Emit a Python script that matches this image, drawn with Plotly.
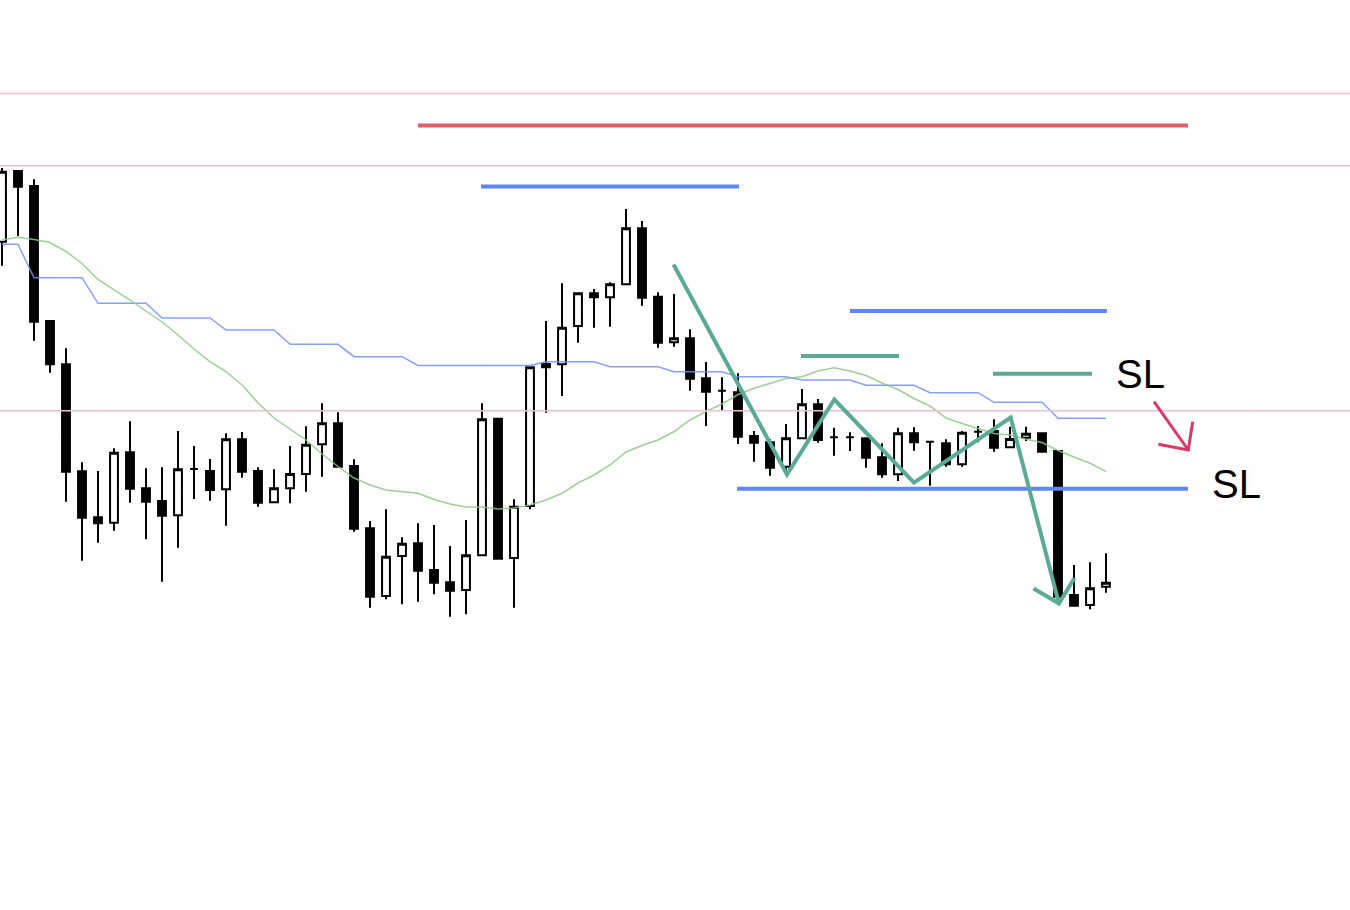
import plotly.graph_objects as go

idx = list(range(70))

open_ = [157.583, 158.290, 158.140, 156.790, 156.357, 155.287, 154.827, 154.773, 155.477, 155.117,
         154.990, 154.847, 155.310, 155.290, 155.107, 155.607, 155.290, 154.977, 155.117, 155.260,
         155.557, 155.767, 155.340, 154.717, 154.040, 154.440, 154.567, 154.300, 154.177, 154.100,
         154.447, 155.813, 154.420, 154.940, 156.360, 156.357, 156.740, 157.067, 157.027, 157.157,
         157.717, 157.033, 156.577, 156.617, 156.217, 156.093, 156.077, 155.640, 155.577, 155.333,
         155.617, 155.957, 155.627, 155.627, 155.617, 155.427, 155.257, 155.667, 155.583, 155.567,
         155.357, 155.683, 155.690, 155.527, 155.623, 155.667, 155.490, 154.050, 153.950, 154.133]
high_ = [158.320, 158.300, 158.207, 156.790, 156.517, 155.377, 155.290, 155.517, 155.787, 155.317,
         155.327, 155.690, 155.540, 155.410, 155.667, 155.680, 155.327, 155.307, 155.540, 155.737,
         155.967, 155.877, 155.407, 154.790, 154.907, 154.627, 154.767, 154.750, 154.540, 154.800,
         155.967, 155.820, 155.007, 156.327, 156.790, 157.167, 157.073, 157.110, 157.177, 157.910,
         157.790, 157.077, 157.060, 156.707, 156.380, 156.227, 156.267, 155.690, 155.610, 155.760,
         156.110, 156.010, 155.723, 155.677, 155.617, 155.567, 155.723, 155.727, 155.583, 155.607,
         155.690, 155.740, 155.807, 155.733, 155.733, 155.667, 155.490, 154.350, 154.377, 154.467]
low_ = [157.343, 157.640, 156.593, 156.273, 154.983, 154.393, 154.573, 154.693, 154.973, 154.607,
        154.183, 154.523, 155.010, 154.993, 154.743, 155.223, 154.933, 154.977, 154.967, 155.083,
        155.233, 155.333, 154.683, 153.923, 154.007, 153.957, 153.983, 154.057, 153.833, 153.857,
        154.447, 154.407, 153.923, 154.907, 155.873, 156.040, 156.573, 156.723, 156.733, 157.157,
        156.943, 156.523, 156.533, 156.093, 155.740, 155.900, 155.560, 155.383, 155.243, 155.250,
        155.617, 155.573, 155.443, 155.490, 155.323, 155.223, 155.190, 155.493, 155.143, 155.333,
        155.333, 155.577, 155.483, 155.527, 155.590, 155.483, 153.950, 153.933, 153.907, 154.073]
close_ = [158.283, 158.133, 156.783, 156.357, 155.283, 154.823, 154.767, 155.473, 155.113, 154.983,
          154.843, 155.307, 155.310, 155.100, 155.607, 155.283, 154.973, 155.117, 155.260, 155.553,
          155.767, 155.333, 154.713, 154.033, 154.433, 154.563, 154.293, 154.173, 154.093, 154.447,
          155.807, 154.413, 154.933, 156.327, 156.327, 156.723, 157.067, 157.027, 157.157, 157.717,
          157.023, 156.573, 156.617, 156.213, 156.083, 156.093, 155.633, 155.573, 155.323, 155.617,
          155.957, 155.600, 155.627, 155.627, 155.423, 155.257, 155.667, 155.577, 155.583, 155.357,
          155.673, 155.683, 155.523, 155.610, 155.663, 155.483, 154.033, 153.943, 154.117, 154.173]

# stepped baseline (thin blue)
base_line = [157.557, 157.557, 157.223, 157.223, 157.223, 157.223, 156.967, 156.967, 156.967, 156.967,
             156.820, 156.820, 156.820, 156.820, 156.700, 156.700, 156.700, 156.700, 156.557, 156.557,
             156.557, 156.557, 156.433, 156.433, 156.433, 156.433, 156.345, 156.345, 156.345, 156.345,
             156.345, 156.345, 156.345, 156.345, 156.383, 156.383, 156.383, 156.383, 156.333, 156.333,
             156.333, 156.333, 156.283, 156.283, 156.283, 156.283, 156.233, 156.233, 156.233, 156.233,
             156.200, 156.200, 156.200, 156.200, 156.147, 156.147, 156.147, 156.147, 156.073, 156.073,
             156.073, 156.073, 155.977, 155.977, 155.977, 155.977, 155.817, 155.817, 155.817, 155.817]
# moving average (thin green)
ma_line = [157.600, 157.627, 157.605, 157.575, 157.485, 157.365, 157.205, 157.105, 157.000, 156.890,
           156.780, 156.650, 156.510, 156.383, 156.285, 156.150, 155.970, 155.820, 155.710, 155.600,
           155.460, 155.335, 155.220, 155.150, 155.100, 155.080, 155.067, 155.005, 154.960, 154.930,
           154.930, 154.910, 154.920, 154.950, 155.000, 155.067, 155.170, 155.250, 155.350, 155.480,
           155.545, 155.600, 155.685, 155.800, 155.885, 155.960, 156.055, 156.117, 156.167, 156.215,
           156.233, 156.290, 156.323, 156.290, 156.245, 156.170, 156.105, 156.015, 155.940, 155.820,
           155.765, 155.717, 155.665, 155.650, 155.607, 155.575, 155.495, 155.430, 155.367, 155.283]

# horizontal levels
pink_levels = [159.065, 158.343, 155.893]
red_level = [158.745]
red_start = [26.0]
red_end = [74.125]
blue_levels = [158.135, 156.890, 155.113]
blue_start = [29.94, 53.0, 45.94]
blue_end = [46.06, 69.06, 74.125]
green_levels = [156.440, 156.263]
green_start = [49.94, 61.94]
green_end = [56.06, 68.125]

# wave path
wave_x = [41.97, 49.06, 52.02, 57.0, 63.04, 66.06]
wave_y = [157.355, 155.255, 156.005, 155.173, 155.825, 153.965]
wave_head_x = [64.47, 66.06, 67.03]
wave_head_y = [154.115, 153.965, 154.22]

# SL arrow
sl_arrow_x = [72.0, 74.14]
sl_arrow_y = [155.983, 155.50]
sl_head_x = [72.27, 74.14, 74.42]
sl_head_y = [155.557, 155.50, 155.783]

labels = ["SL", "SL"]
label_x = [71.125, 77.17]
label_y = [156.26, 155.16]

fig = go.Figure()

fig.add_trace(go.Scatter(x=idx, y=base_line, mode="lines",
                         line=dict(color="rgba(110,145,245,0.85)", width=1.5), hoverinfo="skip"))
fig.add_trace(go.Scatter(x=idx, y=ma_line, mode="lines",
                         line=dict(color="rgba(140,200,130,0.85)", width=1.5), hoverinfo="skip"))

for lv in pink_levels:
    fig.add_trace(go.Scatter(x=[-5, 100], y=[lv, lv], mode="lines",
                             line=dict(color="#F2BDCF", width=1.5), hoverinfo="skip"))

fig.add_trace(go.Candlestick(
    x=idx, open=open_, high=high_, low=low_, close=close_,
    increasing=dict(line=dict(color="black", width=2), fillcolor="white"),
    decreasing=dict(line=dict(color="black", width=2), fillcolor="black"),
    whiskerwidth=0,
))

for lv, a, b in zip(red_level, red_start, red_end):
    fig.add_trace(go.Scatter(x=[a, b], y=[lv, lv], mode="lines",
                             line=dict(color="#DF5F66", width=4), hoverinfo="skip"))
for lv, a, b in zip(blue_levels, blue_start, blue_end):
    fig.add_trace(go.Scatter(x=[a, b], y=[lv, lv], mode="lines",
                             line=dict(color="#5F87F0", width=4), hoverinfo="skip"))
for lv, a, b in zip(green_levels, green_start, green_end):
    fig.add_trace(go.Scatter(x=[a, b], y=[lv, lv], mode="lines",
                             line=dict(color="#5BAA96", width=4), hoverinfo="skip"))

fig.add_trace(go.Scatter(x=wave_x, y=wave_y, mode="lines",
                         line=dict(color="#5BAA96", width=4), hoverinfo="skip"))
fig.add_trace(go.Scatter(x=wave_head_x, y=wave_head_y, mode="lines",
                         line=dict(color="#5BAA96", width=4), hoverinfo="skip"))

fig.add_trace(go.Scatter(x=sl_arrow_x, y=sl_arrow_y, mode="lines",
                         line=dict(color="#D83A68", width=3), hoverinfo="skip"))
fig.add_trace(go.Scatter(x=sl_head_x, y=sl_head_y, mode="lines",
                         line=dict(color="#D83A68", width=3), hoverinfo="skip"))

for t, xx, yy in zip(labels, label_x, label_y):
    fig.add_annotation(x=xx, y=yy, xref="x", yref="y", text=t, showarrow=False,
                       font=dict(family="Liberation Sans, Arial, sans-serif", size=40, color="black"),
                       xanchor="center", yanchor="middle")

fig.update_layout(
    width=1350, height=910,
    margin=dict(l=0, r=0, t=0, b=0),
    paper_bgcolor="white", plot_bgcolor="white",
    showlegend=False,
    xaxis=dict(range=[-0.125, 84.25], showticklabels=False, showgrid=True,
               gridcolor="#FBFBFB", gridwidth=1, tick0=6, dtick=12,
               zeroline=False, showline=False, ticks="",
               rangeslider=dict(visible=False)),
    yaxis=dict(range=[150.90, 160.00], showticklabels=False, showgrid=True,
               gridcolor="#FCFCFC", gridwidth=1, tick0=153.19, dtick=0.619,
               zeroline=False, showline=False, ticks=""),
)

fig.write_html("out.html", config={"displayModeBar": False},
               post_script="document.body.style.margin='0';document.body.style.overflow='hidden';")
